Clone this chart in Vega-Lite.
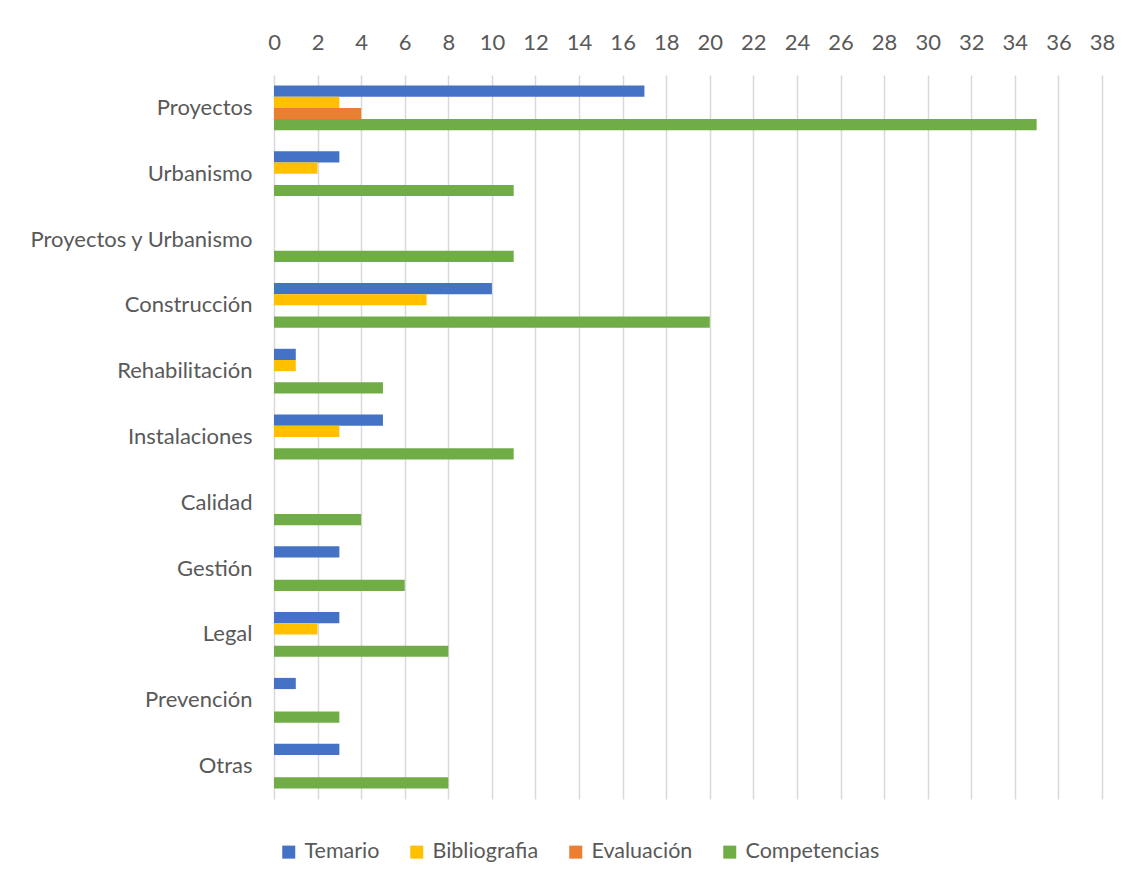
{
  "$schema": "https://vega.github.io/schema/vega-lite/v6.json",
  "width": 828,
  "height": 724,
  "autosize": {"type": "none"},
  "padding": {"left": 274, "top": 75, "right": 26, "bottom": 80},
  "background": "white",
  "config": {
    "font": "Lato",
    "view": {"stroke": null},
    "axis": {"labelColor": "#595959", "labelFont": "Lato", "labelFontSize": 22, "ticks": false, "domain": false, "title": null, "labelLimit": 400},
    "legend": {"labelFont": "Lato", "labelFontSize": 21.5, "labelColor": "#595959", "labelLimit": 300}
  },
  "data": {
    "values": [
      {"cat": "Proyectos", "serie": "Temario", "v": 17},
      {"cat": "Proyectos", "serie": "Bibliografia", "v": 3},
      {"cat": "Proyectos", "serie": "Evaluación", "v": 4},
      {"cat": "Proyectos", "serie": "Competencias", "v": 35},
      {"cat": "Urbanismo", "serie": "Temario", "v": 3},
      {"cat": "Urbanismo", "serie": "Bibliografia", "v": 2},
      {"cat": "Urbanismo", "serie": "Evaluación", "v": 0},
      {"cat": "Urbanismo", "serie": "Competencias", "v": 11},
      {"cat": "Proyectos y Urbanismo", "serie": "Temario", "v": 0},
      {"cat": "Proyectos y Urbanismo", "serie": "Bibliografia", "v": 0},
      {"cat": "Proyectos y Urbanismo", "serie": "Evaluación", "v": 0},
      {"cat": "Proyectos y Urbanismo", "serie": "Competencias", "v": 11},
      {"cat": "Construcción", "serie": "Temario", "v": 10},
      {"cat": "Construcción", "serie": "Bibliografia", "v": 7},
      {"cat": "Construcción", "serie": "Evaluación", "v": 0},
      {"cat": "Construcción", "serie": "Competencias", "v": 20},
      {"cat": "Rehabilitación", "serie": "Temario", "v": 1},
      {"cat": "Rehabilitación", "serie": "Bibliografia", "v": 1},
      {"cat": "Rehabilitación", "serie": "Evaluación", "v": 0},
      {"cat": "Rehabilitación", "serie": "Competencias", "v": 5},
      {"cat": "Instalaciones", "serie": "Temario", "v": 5},
      {"cat": "Instalaciones", "serie": "Bibliografia", "v": 3},
      {"cat": "Instalaciones", "serie": "Evaluación", "v": 0},
      {"cat": "Instalaciones", "serie": "Competencias", "v": 11},
      {"cat": "Calidad", "serie": "Temario", "v": 0},
      {"cat": "Calidad", "serie": "Bibliografia", "v": 0},
      {"cat": "Calidad", "serie": "Evaluación", "v": 0},
      {"cat": "Calidad", "serie": "Competencias", "v": 4},
      {"cat": "Gestión", "serie": "Temario", "v": 3},
      {"cat": "Gestión", "serie": "Bibliografia", "v": 0},
      {"cat": "Gestión", "serie": "Evaluación", "v": 0},
      {"cat": "Gestión", "serie": "Competencias", "v": 6},
      {"cat": "Legal", "serie": "Temario", "v": 3},
      {"cat": "Legal", "serie": "Bibliografia", "v": 2},
      {"cat": "Legal", "serie": "Evaluación", "v": 0},
      {"cat": "Legal", "serie": "Competencias", "v": 8},
      {"cat": "Prevención", "serie": "Temario", "v": 1},
      {"cat": "Prevención", "serie": "Bibliografia", "v": 0},
      {"cat": "Prevención", "serie": "Evaluación", "v": 0},
      {"cat": "Prevención", "serie": "Competencias", "v": 3},
      {"cat": "Otras", "serie": "Temario", "v": 3},
      {"cat": "Otras", "serie": "Bibliografia", "v": 0},
      {"cat": "Otras", "serie": "Evaluación", "v": 0},
      {"cat": "Otras", "serie": "Competencias", "v": 8}
    ]
  },
  "mark": {"type": "bar"},
  "encoding": {
    "y": {
      "field": "cat",
      "type": "nominal",
      "sort": null,
      "scale": {"paddingInner": 0.32, "paddingOuter": 0.16},
      "axis": {"labelPadding": 22}
    },
    "yOffset": {
      "field": "serie",
      "type": "nominal",
      "sort": ["Temario", "Bibliografia", "Evaluación", "Competencias"],
      "scale": {"paddingInner": 0, "paddingOuter": 0}
    },
    "x": {
      "field": "v",
      "type": "quantitative",
      "scale": {"domain": [0, 38], "nice": false},
      "axis": {
        "orient": "top",
        "values": [0,2,4,6,8,10,12,14,16,18,20,22,24,26,28,30,32,34,36,38],
        "labelPadding": 21,
        "labelFlush": false,
        "labelOverlap": false,
        "grid": true,
        "gridColor": "#D9D9D9",
        "gridWidth": 1.5
      }
    },
    "color": {
      "field": "serie",
      "type": "nominal",
      "scale": {
        "domain": ["Temario", "Bibliografia", "Evaluación", "Competencias"],
        "range": ["#4472C4", "#FFC000", "#ED7D31", "#70AD47"]
      },
      "legend": {
        "title": null,
        "orient": "none",
        "direction": "horizontal",
        "legendX": 4,
        "legendY": 766,
        "symbolType": "square",
        "symbolSize": 169,
        "symbolStrokeWidth": 0,
        "labelOffset": 5,
        "columnPadding": 26
      }
    }
  }
}
